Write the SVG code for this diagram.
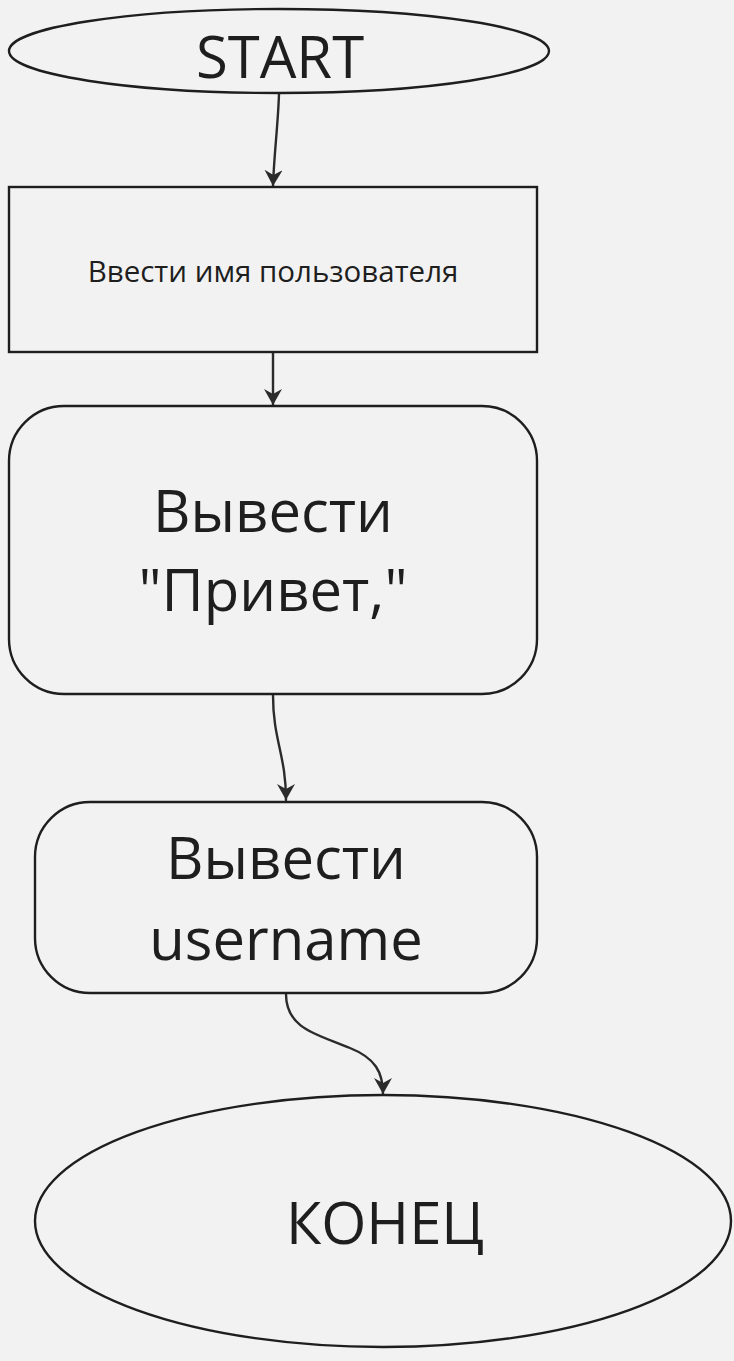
<svg xmlns="http://www.w3.org/2000/svg" width="734" height="1361" viewBox="0 0 734 1361">
<defs>
<style>
.shape{fill:none;stroke:#1e1e1e;stroke-width:2.4}
.edge{fill:none;stroke:#2b2b2b;stroke-width:2.4;stroke-linecap:round}
text{font-family:"Open Sans","Noto Sans","DejaVu Sans",sans-serif;fill:#1e1e1e;text-anchor:middle}
.big{font-size:58px}
.small{font-size:29.5px}
</style>
<marker id="arr" viewBox="0 0 18 18" refX="16" refY="9" markerWidth="18" markerHeight="18" markerUnits="userSpaceOnUse" orient="auto">
<path d="M0,0 L16,9 L0,18 L5,9 Z" fill="#2b2b2b"/>
</marker>
</defs>
<rect width="734" height="1361" fill="#f2f2f2"/>
<g id="edges">
<path class="edge" d="M279,94 C278,125 274,155 273,186" marker-end="url(#arr)"/>
<path class="edge" d="M273,353 L273,405" marker-end="url(#arr)"/>
<path class="edge" d="M273,695 C273,740 286,755 286,800" marker-end="url(#arr)"/>
<path class="edge" d="M286,994 C286,1030 320,1035 350,1048 C375,1058 383,1072 383,1094" marker-end="url(#arr)"/>
</g>
<g id="start">
<ellipse class="shape" cx="279" cy="51" rx="270" ry="42"/>
<text class="big" x="280" y="78">START</text>
</g>
<g id="input">
<rect class="shape" x="9" y="187" width="528" height="165"/>
<text class="small" x="273" y="282">Ввести имя пользователя</text>
</g>
<g id="print-hello">
<rect class="shape" x="9" y="406" width="528" height="288" rx="55" ry="55"/>
<text class="big" x="273" y="532">Вывести</text>
<text class="big" x="273" y="611">"Привет,"</text>
</g>
<g id="print-user">
<rect class="shape" x="35" y="802" width="502" height="191" rx="55" ry="55"/>
<text class="big" x="286" y="879">Вывести</text>
<text class="big" x="286" y="960">username</text>
</g>
<g id="end">
<ellipse class="shape" cx="383" cy="1221" rx="348" ry="126"/>
<text class="big" x="385" y="1244">КОНЕЦ</text>
</g>
</svg>
